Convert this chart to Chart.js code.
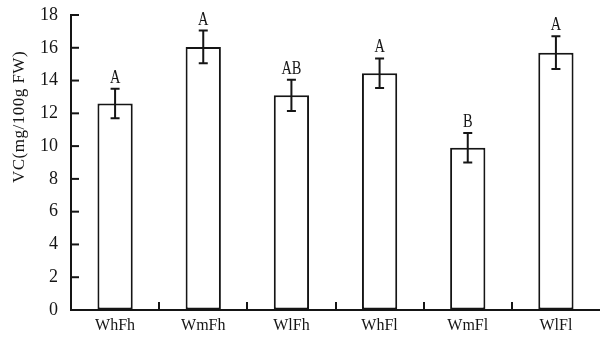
<!DOCTYPE html>
<html>
<head>
<meta charset="utf-8">
<script src="https://cdn.jsdelivr.net/npm/chart.js@4"></script>
<style>
  html, body { margin: 0; padding: 0; background: #fff; }
  #wrap { width: 600px; height: 342px; }
</style>
</head>
<body>
<div id="wrap"><canvas id="vcChart" width="600" height="342"></canvas></div>
<script>
// VC content per treatment
const categories = ['WhFh', 'WmFh', 'WlFh', 'WhFl', 'WmFl', 'WlFl'];
const vcMeans = [12.6, 16.05, 13.1, 14.45, 9.9, 15.7];
const vcErrors = [0.9, 1.0, 0.95, 0.9, 0.9, 1.0];
const sigLetters = ['A', 'A', 'AB', 'A', 'B', 'A'];
const yTicks = [0, 2, 4, 6, 8, 10, 12, 14, 16, 18];

const INK = '#151515';

// error bars, letters, inward ticks and y title
const extras = {
    id: 'extras',
    afterDatasetsDraw(chart) {
        const ctx = chart.ctx;
        const y = chart.scales.y;
        const x = chart.scales.x;
        const area = chart.chartArea;
        const bars = chart.getDatasetMeta(0).data;
        ctx.save();
        ctx.strokeStyle = INK;
        ctx.fillStyle = INK;
        ctx.lineWidth = 2;

        bars.forEach((bar, i) => {
            const top = y.getPixelForValue(vcMeans[i] + vcErrors[i]);
            const bot = y.getPixelForValue(vcMeans[i] - vcErrors[i]);
            ctx.beginPath();
            ctx.moveTo(bar.x, top); ctx.lineTo(bar.x, bot);
            ctx.moveTo(bar.x - 4.5, top); ctx.lineTo(bar.x + 4.5, top);
            ctx.moveTo(bar.x - 4.5, bot); ctx.lineTo(bar.x + 4.5, bot);
            ctx.stroke();

            ctx.save();
            ctx.translate(bar.x, top - 6);
            ctx.scale(0.8, 1);
            ctx.font = '18px "Liberation Serif", serif';
            ctx.textAlign = 'center';
            ctx.textBaseline = 'alphabetic';
            ctx.fillText(sigLetters[i], 0, 0);
            ctx.restore();
        });

        // y ticks pointing inward
        yTicks.forEach(v => {
            const py = y.getPixelForValue(v);
            ctx.beginPath();
            ctx.moveTo(area.left, py); ctx.lineTo(area.left + 8, py);
            ctx.stroke();
        });

        // x ticks between categories pointing inward
        for (let i = 1; i < categories.length; i++) {
            const px = Math.round((x.getPixelForValue(i - 1) + x.getPixelForValue(i)) / 2);
            ctx.beginPath();
            ctx.moveTo(px, area.bottom); ctx.lineTo(px, area.bottom - 8);
            ctx.stroke();
        }

        // y axis title
        ctx.save();
        ctx.translate(20, 117);
        ctx.rotate(-Math.PI / 2);
        ctx.font = '17px "Liberation Serif", serif';
        ctx.letterSpacing = '0.5px';
        ctx.textAlign = 'center';
        ctx.textBaseline = 'middle';
        ctx.fillText('VC(mg/100g FW)', 0, 0);
        ctx.restore();

        ctx.restore();
    }
};

const chart = new Chart(document.getElementById('vcChart'), {
    type: 'bar',
    data: {
        labels: categories,
        datasets: [{
            data: vcMeans,
            backgroundColor: '#ffffff',
            borderColor: INK,
            borderWidth: 2,
            borderSkipped: false,
            categoryPercentage: 1,
            barPercentage: 0.4
        }]
    },
    options: {
        responsive: false,
        animation: false,
        layout: { padding: { left: 0, right: 0, top: 15, bottom: 0 } },
        plugins: {
            legend: { display: false },
            tooltip: { enabled: false }
        },
        scales: {
            x: {
                grid: { drawOnChartArea: false, drawTicks: false },
                border: { display: true, color: INK, width: 2 },
                ticks: {
                    color: INK,
                    padding: 6,
                    font: { family: '"Liberation Serif", serif', size: 16 }
                },
                afterFit(scale) {
                    scale.height = 32;
                    scale.paddingLeft = 0;
                    scale.paddingRight = 0;
                }
            },
            y: {
                min: 0,
                max: 18,
                afterBuildTicks(scale) { scale.ticks = yTicks.map(v => ({ value: v })); },
                grid: { drawOnChartArea: false, drawTicks: false },
                border: { display: true, color: INK, width: 2 },
                ticks: {
                    color: INK,
                    padding: 13,
                    font: { family: '"Liberation Serif", serif', size: 18 }
                },
                afterFit(scale) {
                    scale.width = 71;
                    scale.paddingTop = 0;
                    scale.paddingBottom = 0;
                }
            }
        }
    },
    plugins: [extras]
});
</script>
</body>
</html>
